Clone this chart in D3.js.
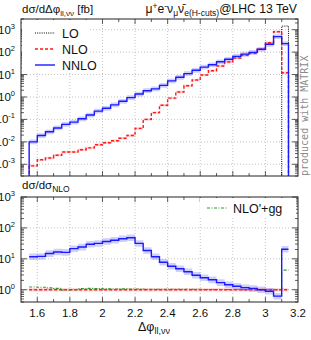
<!DOCTYPE html>
<html>
<head>
<meta charset="utf-8">
<script src="https://cdn.jsdelivr.net/npm/d3@7"></script>
<style>
  body { margin: 0; background: #fff; }
  svg { font-family: "Liberation Sans", Arial, sans-serif; }
</style>
</head>
<body>
<svg id="chart" width="311" height="340"></svg>
<script>
"use strict";

// bin edges in delta phi (last bin ends at pi)
let binEdges = [1.55, 1.6, 1.65, 1.7, 1.75, 1.8, 1.85, 1.9, 1.95, 2.0, 2.05, 2.1, 2.15, 2.2, 2.25, 2.3,
  2.35, 2.4, 2.45, 2.5, 2.55, 2.6, 2.65, 2.7, 2.75, 2.8, 2.85, 2.9, 2.95, 3.0, 3.05, 3.1, 3.1416];

// d sigma / d dphi [fb]
let loValues = [0, 0, 0, 0, 0, 0, 0, 0, 0, 0, 0, 0, 0, 0, 0, 0,
  0, 0, 0, 0, 0, 0, 0, 0, 0, 0, 0, 0, 0, 0, 0, 1450];
let nloValues = [0.00085, 0.00158, 0.00191, 0.00251, 0.00355, 0.00355, 0.00447, 0.00537,
  0.00741, 0.00912, 0.0112, 0.0145, 0.0191, 0.0398, 0.100, 0.200,
  0.427, 0.891, 1.66, 3.16, 5.75, 9.55, 14.8, 24.0,
  36.3, 55.0, 72.4, 89.1, 135, 263, 813, 12.0];
let nnloValues = [0.0100, 0.0191, 0.0282, 0.0417, 0.0603, 0.0759, 0.107, 0.158,
  0.234, 0.316, 0.447, 0.646, 0.933, 1.35, 1.91, 2.29,
  3.31, 5.25, 7.59, 11.0, 15.5, 21.4, 27.5, 37.2,
  47.9, 64.6, 81.3, 97.7, 135, 224, 490, 240];

// ratios to NLO
let nloRatio = [1, 1, 1, 1, 1, 1, 1, 1, 1, 1, 1, 1, 1, 1, 1, 1,
  1, 1, 1, 1, 1, 1, 1, 1, 1, 1, 1, 1, 1, 1, 1, 1];
let nnloRatio = [11.7, 12.0, 14.8, 16.6, 16.2, 21.4, 24.0, 29.5,
  31.6, 36.3, 39.8, 44.7, 47.9, 31.6, 18.6, 11.7,
  7.76, 5.75, 4.79, 3.80, 2.95, 2.45, 2.09, 1.70,
  1.45, 1.29, 1.17, 1.10, 1.00, 0.89, 0.62, 20.4];
let ggRatio = [1.22, 1.20, 1.15, 1.10, 0.98, 1.00, 1.08, 1.10,
  1.08, 1.06, 1.05, 1.06, 1.05, 1.05, 1.04, 1.04,
  1.04, 1.03, 1.03, 1.03, 1.03, 1.02, 1.02, 1.02,
  1.02, 1.02, 1.02, 1.01, 1.01, 1.01, 1.00, 4.3];

// scale-uncertainty bands, relative (down, up)
let nnloBand = [0.78, 1.27];
let nloBand = [0.88, 1.13];

let xTicks = [1.6, 1.8, 2, 2.2, 2.4, 2.6, 2.8, 3, 3.2];
let xMinor = [1.5, 1.7, 1.9, 2.1, 2.3, 2.5, 2.7, 2.9, 3.1];
let topDecades = [-3, -2, -1, 0, 1, 2, 3];
let botDecades = [0, 1, 2, 3];

let svg = d3.select('#chart');

let x = d3.scaleLinear().domain([1.5, 3.2]).range([21, 298]);
let yTop = d3.scaleLog().domain([3e-4, 3e3]).range([176, 19]);
let yBot = d3.scaleLog().domain([0.4, 1000]).range([302, 197]);

let FLOOR = 1e-9;

// histogram outline; withFloor closes it down to the axis at both ends
let stepPoints = (vals, withFloor) => {
  let n = vals.length;
  let pts = withFloor ? [[binEdges[0], FLOOR]] : [];
  vals.forEach((v, i) => pts.push([binEdges[i], v > 0 ? v : FLOOR]));
  pts.push([binEdges[n], vals[n - 1] > 0 ? vals[n - 1] : FLOOR]);
  if (withFloor) pts.push([binEdges[n], FLOOR]);
  return pts;
};

let bandPoints = (vals, band) => {
  let n = vals.length;
  let pts = vals.map((v, i) => [binEdges[i], v * band[0], v * band[1]]);
  pts.push([binEdges[n], vals[n - 1] * band[0], vals[n - 1] * band[1]]);
  return pts;
};

let drawPanel = (id, y, decades) => {
  let [x0, x1] = x.range();
  let [yb, yt] = y.range();
  let g = svg.append('g');

  svg.append('clipPath').attr('id', id)
    .append('rect').attr('x', x0).attr('y', yt).attr('width', x1 - x0).attr('height', yb - yt);

  // grid
  g.selectAll('.vgrid').data(xTicks.filter(t => t < 3.1))
    .enter().append('line')
    .attr('x1', d => x(d)).attr('x2', d => x(d))
    .attr('y1', yt).attr('y2', yb)
    .attr('stroke', '#b4b4b4').attr('stroke-width', 0.8).attr('stroke-dasharray', '1,2');
  g.selectAll('.hgrid').data(decades.map(d => Math.pow(10, d)).filter(v => y(v) > yt + 1 && y(v) < yb - 1))
    .enter().append('line')
    .attr('x1', x0).attr('x2', x1)
    .attr('y1', d => y(d)).attr('y2', d => y(d))
    .attr('stroke', '#b4b4b4').attr('stroke-width', 0.8).attr('stroke-dasharray', '1,2');

  // ticks on all four sides
  let minors = [];
  decades.concat([decades[0] - 1]).forEach(d => {
    for (let m = 1; m <= 9; m++) {
      let v = m * Math.pow(10, d);
      if (v >= y.domain()[0] && v <= y.domain()[1]) minors.push({ v: v, major: m === 1 });
    }
  });
  let tickG = g.append('g').attr('stroke', '#333').attr('stroke-width', 0.8);
  minors.forEach(t => {
    let len = t.major ? 6 : 3;
    tickG.append('line').attr('x1', x0).attr('x2', x0 + len).attr('y1', y(t.v)).attr('y2', y(t.v));
    tickG.append('line').attr('x1', x1).attr('x2', x1 - len).attr('y1', y(t.v)).attr('y2', y(t.v));
  });
  xTicks.concat(xMinor).forEach(t => {
    let len = xTicks.indexOf(t) >= 0 ? 5 : 3;
    if (x(t) <= x0 || x(t) >= x1) return;
    tickG.append('line').attr('x1', x(t)).attr('x2', x(t)).attr('y1', yb).attr('y2', yb - len);
    tickG.append('line').attr('x1', x(t)).attr('x2', x(t)).attr('y1', yt).attr('y2', yt + len);
  });

  // y labels 10^n
  decades.forEach(d => {
    let t = svg.append('text')
      .attr('x', 15).attr('y', y(Math.pow(10, d)) + 4)
      .attr('text-anchor', 'end').attr('font-size', 11.5).attr('fill', '#111');
    t.append('tspan').text('10');
    t.append('tspan').attr('dy', -5).attr('font-size', 7.5).text(d);
  });

  return { g: g, clip: 'url(#' + id + ')', frame: [x0, yt, x1 - x0, yb - yt] };
};

let frameRect = p => {
  svg.append('rect')
    .attr('x', p.frame[0]).attr('y', p.frame[1])
    .attr('width', p.frame[2]).attr('height', p.frame[3])
    .attr('fill', 'none').attr('stroke', '#222').attr('stroke-width', 1);
};

let stepLine = y => d3.line().x(d => x(d[0])).y(d => y(d[1])).curve(d3.curveStepAfter);
let stepArea = y => d3.area().x(d => x(d[0])).y0(d => y(d[1])).y1(d => y(d[2])).curve(d3.curveStepAfter);

// ---------- upper panel ----------
let upper = drawPanel('clipTop', yTop, topDecades);

// legend background
svg.append('rect').attr('x', 22).attr('y', 20).attr('width', 66).attr('height', 51).attr('fill', '#fff');

let topData = svg.append('g').attr('clip-path', upper.clip);
topData.append('path').attr('d', stepArea(yTop)(bandPoints(nloValues, nloBand)))
  .attr('fill', 'rgba(255,0,0,0.18)');
topData.append('path').attr('d', stepArea(yTop)(bandPoints(nnloValues, nnloBand)))
  .attr('fill', 'rgba(40,40,255,0.22)');
topData.append('path').attr('d', stepLine(yTop)(stepPoints(loValues, true)))
  .attr('fill', 'none').attr('stroke', '#000').attr('stroke-width', 1).attr('stroke-dasharray', '1,1.2');
topData.append('path').attr('d', stepLine(yTop)(stepPoints(nloValues, true)))
  .attr('fill', 'none').attr('stroke', '#ff1a1a').attr('stroke-width', 1.4).attr('stroke-dasharray', '3,2');
topData.append('path').attr('d', stepLine(yTop)(stepPoints(nnloValues, true)))
  .attr('fill', 'none').attr('stroke', '#1a1aff').attr('stroke-width', 1.4);

frameRect(upper);

let legendTop = [
  { name: 'LO', color: '#000', dash: '1,1.2', w: 1 },
  { name: 'NLO', color: '#ff1a1a', dash: '3,2', w: 1.4 },
  { name: 'NNLO', color: '#1a1aff', dash: null, w: 1.4 }
];
legendTop.forEach((l, i) => {
  let ly = 33 + i * 16;
  svg.append('line').attr('x1', 35).attr('x2', 55).attr('y1', ly).attr('y2', ly)
    .attr('stroke', l.color).attr('stroke-width', l.w).attr('stroke-dasharray', l.dash);
  svg.append('text').attr('x', 62).attr('y', ly + 4.5).attr('font-size', 12.5).attr('fill', '#111').text(l.name);
});

// ---------- lower panel ----------
let lower = drawPanel('clipBot', yBot, botDecades);

svg.append('rect').attr('x', 200).attr('y', 198).attr('width', 96).attr('height', 19).attr('fill', '#fff');

let botData = svg.append('g').attr('clip-path', lower.clip);
botData.append('path').attr('d', stepArea(yBot)(bandPoints(nloRatio, nloBand)))
  .attr('fill', 'rgba(255,0,0,0.15)');
botData.append('path').attr('d', stepArea(yBot)(bandPoints(nnloRatio, nnloBand)))
  .attr('fill', 'rgba(40,40,255,0.22)');
botData.append('path').attr('d', stepLine(yBot)(stepPoints(nloRatio, false)))
  .attr('fill', 'none').attr('stroke', '#ff1a1a').attr('stroke-width', 1.4).attr('stroke-dasharray', '3,2');
botData.append('path').attr('d', stepLine(yBot)(stepPoints(ggRatio, false)))
  .attr('fill', 'none').attr('stroke', '#2e9a2e').attr('stroke-width', 1.1).attr('stroke-dasharray', '3,1.5,1,1.5');
botData.append('path').attr('d', stepLine(yBot)(stepPoints(nnloRatio, false)))
  .attr('fill', 'none').attr('stroke', '#1a1aff').attr('stroke-width', 1.4);

frameRect(lower);

svg.append('line').attr('x1', 207).attr('x2', 228).attr('y1', 208).attr('y2', 208)
  .attr('stroke', '#2e9a2e').attr('stroke-width', 1.1).attr('stroke-dasharray', '3,1.5,1,1.5');
svg.append('text').attr('x', 233).attr('y', 212.5).attr('font-size', 12.5).attr('fill', '#111').text("NLO'+gg");

// x tick labels
svg.selectAll('.xlab').data(xTicks).enter().append('text')
  .attr('x', d => x(d)).attr('y', 317)
  .attr('text-anchor', 'middle').attr('font-size', 11.5).attr('fill', '#111')
  .text(d => d3.format('')(d));

// ---------- titles ----------
let tl = svg.append('text').attr('x', 22).attr('y', 13).attr('font-size', 11.5).attr('fill', '#111');
tl.append('tspan').text('dσ/dΔφ');
tl.append('tspan').attr('dy', 3).attr('font-size', 8).text('ll,νν');
tl.append('tspan').attr('dy', -3).text(' [fb]');

let tr = svg.append('text').attr('x', 297).attr('y', 13).attr('text-anchor', 'end')
  .attr('font-size', 12.2).attr('fill', '#111');
tr.append('tspan').text('μ');
tr.append('tspan').attr('dy', -4).attr('font-size', 8.5).text('+');
tr.append('tspan').attr('dy', 4).text('e');
tr.append('tspan').attr('dy', -4).attr('font-size', 8.5).text('-');
tr.append('tspan').attr('dy', 4).text('ν');
tr.append('tspan').attr('dy', 3).attr('font-size', 8.5).text('μ');
tr.append('tspan').attr('dy', -3).text('ν\u0304');
tr.append('tspan').attr('dy', 3).attr('font-size', 8.5).text('e');
tr.append('tspan').attr('dy', 0).attr('font-size', 8.5).text('(H-cuts)');
tr.append('tspan').attr('dy', -3).text('@LHC 13 TeV');

let tb = svg.append('text').attr('x', 22).attr('y', 189).attr('font-size', 11.5).attr('fill', '#111');
tb.append('tspan').text('dσ/dσ');
tb.append('tspan').attr('dy', 3).attr('font-size', 8.5).text('NLO');

let tx = svg.append('text').attr('x', 154).attr('y', 331).attr('text-anchor', 'middle')
  .attr('font-size', 12.5).attr('fill', '#111');
tx.append('tspan').text('Δφ');
tx.append('tspan').attr('dy', 3).attr('font-size', 9).text('ll,νν');

svg.append('text')
  .attr('transform', 'translate(308,176) rotate(-90)')
  .attr('font-family', '"DejaVu Sans Mono", monospace').attr('font-size', 10)
  .attr('fill', '#8a8a8a')
  .text('produced with MATRIX');
</script>
</body>
</html>
